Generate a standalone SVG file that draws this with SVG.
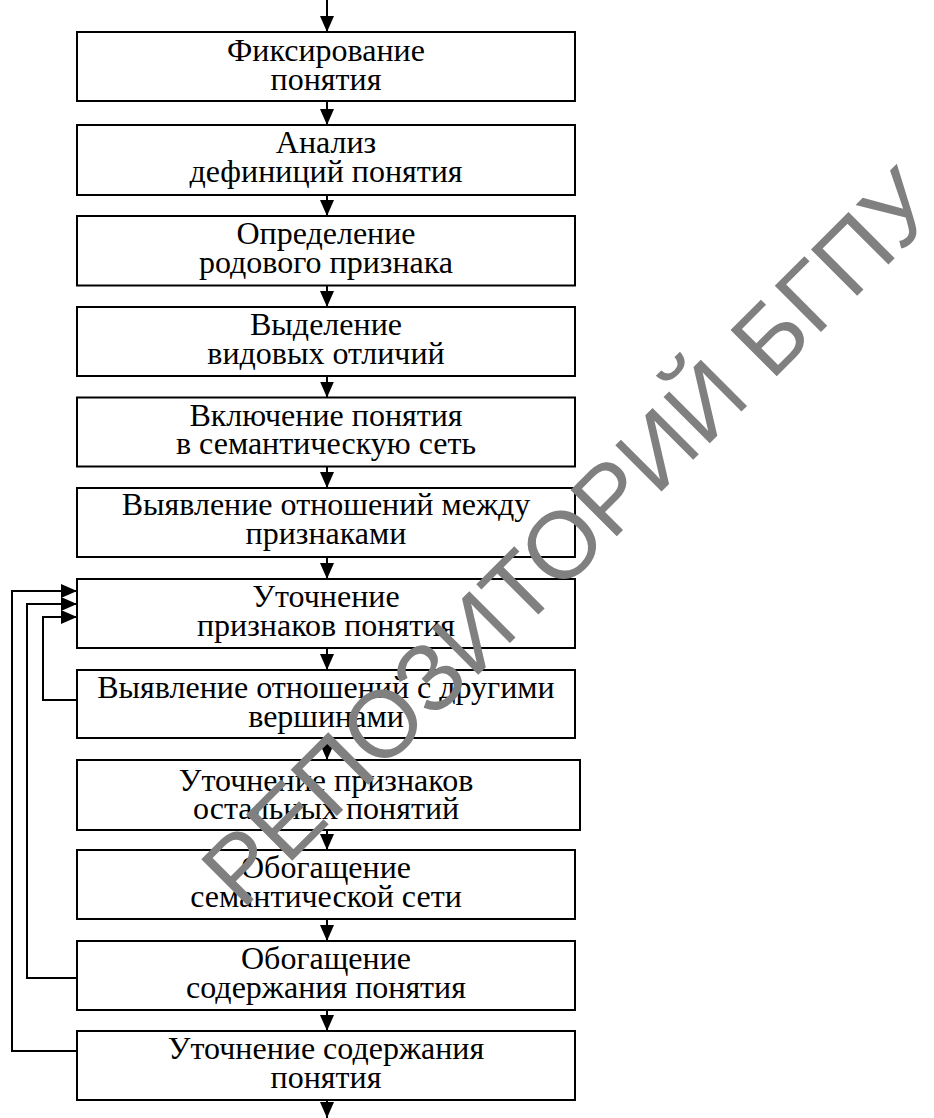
<svg xmlns="http://www.w3.org/2000/svg" width="934" height="1118" viewBox="0 0 934 1118">
<defs>
<marker id="ah" markerUnits="userSpaceOnUse" markerWidth="16" markerHeight="16" viewBox="0 0 16 16" refX="16" refY="8" orient="auto">
<path d="M0,1 L16,8 L0,15 Z" fill="#000"/>
</marker>
</defs>
<style>
.box{fill:#fff;stroke:#000;stroke-width:2}
.t{font-family:"Liberation Serif","Times New Roman",serif;font-size:32px;text-anchor:middle;fill:#000}
.c{fill:none;stroke:#000;stroke-width:2}
.wm{font-family:"Liberation Sans",Arial,sans-serif;font-size:95px;fill:#808080}
</style>
<rect width="934" height="1118" fill="#fff"/>
<g id="n1"><rect class="box" x="77" y="32" width="498" height="69"/><text class="t" x="326" y="61">Фиксирование</text><text class="t" x="326" y="89.5">понятия</text></g>
<g id="n2"><rect class="box" x="77" y="125" width="498" height="70"/><text class="t" x="326" y="153">Анализ</text><text class="t" x="326" y="181.5">дефиниций понятия</text></g>
<g id="n3"><rect class="box" x="77" y="216" width="498" height="69.5"/><text class="t" x="326" y="244">Определение</text><text class="t" x="326" y="272.5">родового признака</text></g>
<g id="n4"><rect class="box" x="77" y="307" width="498" height="69"/><text class="t" x="326" y="335">Выделение</text><text class="t" x="326" y="363.5">видовых отличий</text></g>
<g id="n5"><rect class="box" x="77" y="397.5" width="498" height="69"/><text class="t" x="326" y="425.5">Включение понятия</text><text class="t" x="326" y="454">в семантическую сеть</text></g>
<g id="n6"><rect class="box" x="77" y="488" width="498" height="69"/><text class="t" x="326" y="515">Выявление отношений между</text><text class="t" x="326" y="543.5">признаками</text></g>
<g id="n7"><rect class="box" x="77" y="579" width="498" height="69"/><text class="t" x="326" y="607">Уточнение</text><text class="t" x="326" y="635.5">признаков понятия</text></g>
<g id="n8"><rect class="box" x="77" y="670" width="498" height="68"/><text class="t" x="326" y="698">Выявление отношений с другими</text><text class="t" x="326" y="726.5">вершинами</text></g>
<g id="n9"><rect class="box" x="77" y="760" width="503" height="70"/><text class="t" x="326" y="790.5">Уточнение признаков</text><text class="t" x="326" y="819">остальных понятий</text></g>
<g id="n10"><rect class="box" x="77" y="850" width="498" height="69"/><text class="t" x="326" y="878">Обогащение</text><text class="t" x="326" y="906.5">семантической сети</text></g>
<g id="n11"><rect class="box" x="77" y="941" width="498" height="69"/><text class="t" x="326" y="969">Обогащение</text><text class="t" x="326" y="997.5">содержания понятия</text></g>
<g id="n12"><rect class="box" x="77" y="1031" width="498" height="69"/><text class="t" x="326" y="1059">Уточнение содержания</text><text class="t" x="326" y="1087.5">понятия</text></g>
<g id="connectors">
<line class="c" x1="327" y1="0" x2="327" y2="32" marker-end="url(#ah)"/>
<line class="c" x1="327" y1="101" x2="327" y2="125" marker-end="url(#ah)"/>
<line class="c" x1="327" y1="195" x2="327" y2="216" marker-end="url(#ah)"/>
<line class="c" x1="327" y1="285.5" x2="327" y2="307" marker-end="url(#ah)"/>
<line class="c" x1="327" y1="376" x2="327" y2="397.5" marker-end="url(#ah)"/>
<line class="c" x1="327" y1="466.5" x2="327" y2="488" marker-end="url(#ah)"/>
<line class="c" x1="327" y1="557" x2="327" y2="579" marker-end="url(#ah)"/>
<line class="c" x1="327" y1="648" x2="327" y2="670" marker-end="url(#ah)"/>
<line class="c" x1="327" y1="738" x2="327" y2="760" marker-end="url(#ah)"/>
<line class="c" x1="327" y1="830" x2="327" y2="850" marker-end="url(#ah)"/>
<line class="c" x1="327" y1="919" x2="327" y2="941" marker-end="url(#ah)"/>
<line class="c" x1="327" y1="1010" x2="327" y2="1031" marker-end="url(#ah)"/>
<line class="c" x1="327" y1="1100" x2="327" y2="1118" marker-end="url(#ah)"/>
<polyline class="c" points="77,700 43,700 43,617 77,617" marker-end="url(#ah)"/>
<polyline class="c" points="77,978 27,978 27,604 77,604" marker-end="url(#ah)"/>
<polyline class="c" points="77,1051 12,1051 12,591 77,591" marker-end="url(#ah)"/>
</g>
<g id="watermark"><text class="wm" transform="translate(242,911) rotate(-45)">РЕПОЗИТОРИЙ БГПУ</text></g>
</svg>
